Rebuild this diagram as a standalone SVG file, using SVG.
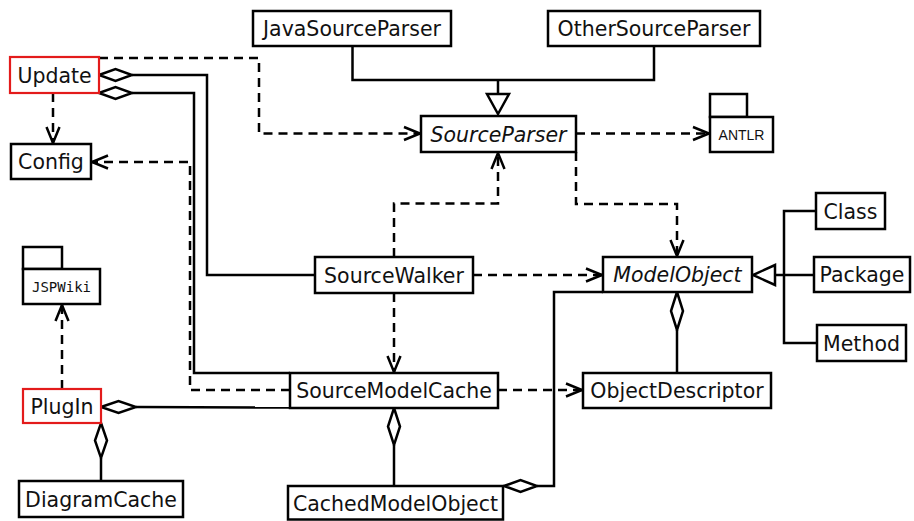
<svg xmlns="http://www.w3.org/2000/svg" width="914" height="521" viewBox="0 0 914 521">
  <style>
    .box { fill: #fff; stroke: #000; stroke-width: 2.5; }
    .hot { fill: #fff; stroke: #e31b1b; stroke-width: 2.2; }
    .lbl { font-family: "DejaVu Sans", "Liberation Sans", sans-serif; font-size: 20.5px; fill: #111; text-anchor: middle; }
    .abs { font-style: italic; }
    .pkg { font-family: "DejaVu Sans Mono", "Liberation Mono", monospace; font-size: 14px; fill: #111; text-anchor: middle; }
    .ext { font-family: "Liberation Sans Narrow", "Liberation Sans", sans-serif; font-size: 14px; fill: #111; text-anchor: middle; }
    .solid { fill: none; stroke: #000; stroke-width: 2.5; }
    .dash { fill: none; stroke: #000; stroke-width: 2.5; stroke-dasharray: 9 6; }
    .head { fill: #fff; stroke: #000; stroke-width: 2.5; stroke-linejoin: miter; }
  </style>
  <defs>
    <marker id="open" markerUnits="userSpaceOnUse" markerWidth="24" markerHeight="20" viewBox="-18 -10 20 20" refX="0" refY="0" orient="auto">
      <path d="M -16 -6.5 L 0 0 L -16 6.5" fill="none" stroke="#000" stroke-width="2.5"/>
    </marker>
  </defs>

  <!-- connectors -->
  <g id="connectors">
    <!-- generalization to SourceParser -->
    <polyline class="solid" points="352.5,46 352.5,80 654,80 654,46"/>
    <polyline class="solid" points="498,80 498,94"/>
    <polygon class="head" points="487,94 509,94 498,114"/>

    <!-- generalization to ModelObject -->
    <polyline class="solid" points="816,211 784,211 784,343 817,343"/>
    <polyline class="solid" points="775,275 814,275"/>
    <polygon class="head" points="775,265 775,285 753,275"/>

    <!-- dependencies -->
    <polyline class="dash" points="99,58 259,58 259,133.5 420,133.5" marker-end="url(#open)"/>
    <polyline class="dash" points="576,133.5 709,133.5" marker-end="url(#open)"/>
    <polyline class="dash" points="576,152 576,204 677,204 677,256" marker-end="url(#open)"/>
    <polyline class="dash" points="394,257 394,203.5 498,203.5 498,153" marker-end="url(#open)"/>
    <polyline class="dash" points="473,275 602,275" marker-end="url(#open)"/>
    <polyline class="dash" points="394,293 394,372" marker-end="url(#open)"/>
    <polyline class="dash" points="290,390 190,390 190,162 92,162" marker-end="url(#open)"/>
    <polyline class="dash" points="53,93 53,143" marker-end="url(#open)"/>
    <polyline class="dash" points="62,389 62,305" marker-end="url(#open)"/>
    <polyline class="dash" points="498,390 582,390" marker-end="url(#open)"/>

    <!-- aggregations -->
    <polyline class="solid" points="132,75 207,75 207,275 315,275"/>
    <polygon class="head" points="99,75 115.5,69 132,75 115.5,81"/>
    <polyline class="solid" points="132,93 194,93 194,373 290,373"/>
    <polygon class="head" points="99,93 115.5,87 132,93 115.5,99"/>
    <polyline class="solid" points="136,407 290,407.5"/>
    <polygon class="head" points="101,407 118.5,401 136,407 118.5,413"/>
    <polyline class="solid" points="101,458 101,481"/>
    <polygon class="head" points="101,423 107,440.5 101,458 95,440.5"/>
    <polyline class="solid" points="677,330 677,373"/>
    <polygon class="head" points="677,292 683,311 677,330 671,311"/>
    <polyline class="solid" points="394,445 394,486"/>
    <polygon class="head" points="394,408 400,426.5 394,445 388,426.5"/>
    <polyline class="solid" points="537,486 554,486 554,292 603,292"/>
    <polygon class="head" points="504,486 520.5,480 537,486 520.5,492"/>
  </g>

  <!-- nodes -->
  <g id="JavaSourceParser">
    <rect class="box" x="253" y="11" width="198" height="35"/>
    <text class="lbl" x="352" y="36">JavaSourceParser</text>
  </g>
  <g id="OtherSourceParser">
    <rect class="box" x="548" y="11" width="212" height="35"/>
    <text class="lbl" x="654" y="36">OtherSourceParser</text>
  </g>
  <g id="SourceParser">
    <rect class="box" x="421" y="116" width="155" height="36"/>
    <text class="lbl abs" x="498.5" y="141.5">SourceParser</text>
  </g>
  <g id="ANTLR">
    <rect class="box" x="710" y="94" width="37" height="23"/>
    <rect class="box" x="710" y="117" width="63" height="35"/>
    <text class="ext" x="741.5" y="139.5">ANTLR</text>
  </g>
  <g id="Update">
    <rect class="hot" x="10" y="57" width="89" height="36"/>
    <text class="lbl" x="54.5" y="82.5">Update</text>
  </g>
  <g id="Config">
    <rect class="box" x="11" y="144" width="80" height="35"/>
    <text class="lbl" x="51" y="169">Config</text>
  </g>
  <g id="JSPWiki">
    <rect class="box" x="23" y="247" width="39" height="22"/>
    <rect class="box" x="23" y="269" width="77" height="35"/>
    <text class="pkg" x="61.5" y="291.5">JSPWiki</text>
  </g>
  <g id="PlugIn">
    <rect class="hot" x="23" y="389" width="78" height="34"/>
    <text class="lbl" x="62" y="413.5">PlugIn</text>
  </g>
  <g id="DiagramCache">
    <rect class="box" x="19" y="481" width="164" height="36"/>
    <text class="lbl" x="101" y="506.5">DiagramCache</text>
  </g>
  <g id="SourceWalker">
    <rect class="box" x="315" y="257" width="158" height="36"/>
    <text class="lbl" x="394" y="282.5">SourceWalker</text>
  </g>
  <g id="ModelObject">
    <rect class="box" x="603" y="257" width="149" height="35"/>
    <text class="lbl abs" x="677.5" y="282">ModelObject</text>
  </g>
  <g id="Class">
    <rect class="box" x="816" y="193" width="69" height="36"/>
    <text class="lbl" x="850.5" y="218.5">Class</text>
  </g>
  <g id="Package">
    <rect class="box" x="814" y="257" width="96" height="35"/>
    <text class="lbl" x="862" y="282">Package</text>
  </g>
  <g id="Method">
    <rect class="box" x="817" y="325" width="89" height="36"/>
    <text class="lbl" x="861.5" y="350.5">Method</text>
  </g>
  <g id="SourceModelCache">
    <rect class="box" x="290" y="373" width="208" height="35"/>
    <text class="lbl" x="394" y="398">SourceModelCache</text>
  </g>
  <g id="ObjectDescriptor">
    <rect class="box" x="583" y="373" width="188" height="35"/>
    <text class="lbl" x="677" y="398">ObjectDescriptor</text>
  </g>
  <g id="CachedModelObject">
    <rect class="box" x="288" y="486" width="215" height="33.5"/>
    <text class="lbl" x="395.5" y="511">CachedModelObject</text>
  </g>
</svg>
